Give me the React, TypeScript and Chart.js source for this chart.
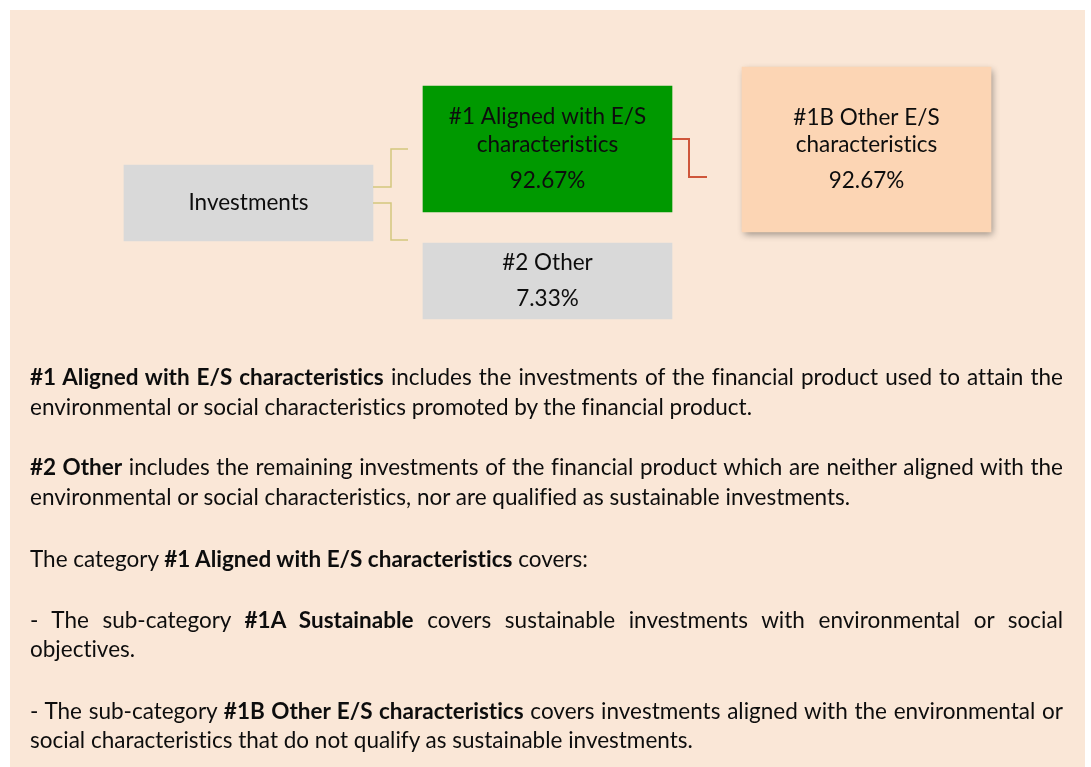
import React, { useEffect, useRef } from "react";
import { Chart, registerables } from "chart.js";

Chart.register(...registerables);

// ---- data ----
const boxNames = ["Investments", "#1 Aligned with E/S characteristics", "#2 Other", "#1B Other E/S characteristics"];
const boxLines = [["Investments"], ["#1 Aligned with E/S", "characteristics"], ["#2 Other"], ["#1B Other E/S", "characteristics"]];
const boxShares: (number | null)[] = [null, 92.67, 7.33, 92.67];

// ---- layout (page pixel units) ----
const boxSpanX = [[124, 373], [423, 672], [423, 672], [742, 991]];
const boxCenterY = [203, 149, 281, 149.5];
const boxHeight = [76, 126, 76, 165];
const boxColor = ["#D9D9D9", "#009900", "#D9D9D9", "#FCD5B4"];
const connectors = [
  { color: "#D3C77E", width: 1.5, pts: [[373, 187], [391, 187], [391, 149], [408, 149]] },
  { color: "#D3C77E", width: 1.5, pts: [[373, 203], [391, 203], [391, 240], [408, 240]] },
  { color: "#CF563A", width: 2, pts: [[672, 139], [689, 139], [689, 177], [707, 177]] },
];

const FONT = "Lato";
const BOX_FONT_SIZE = 22.5;
const TEXT_FONT_SIZE = 22.5;

type Part = [string, boolean];
const textLines: { base: number; parts: Part[]; justify: boolean }[] = [
  { base: 385, justify: true, parts: [["#1 Aligned with E/S characteristics", true], [" includes the investments of the financial product used to attain the", false]] },
  { base: 415, justify: false, parts: [["environmental or social characteristics promoted by the financial product.", false]] },
  { base: 475, justify: true, parts: [["#2 Other", true], [" includes the remaining investments of the financial product which are neither aligned with the", false]] },
  { base: 505, justify: false, parts: [["environmental or social characteristics, nor are qualified as sustainable investments.", false]] },
  { base: 567, justify: false, parts: [["The category ", false], ["#1 Aligned with E/S characteristics", true], [" covers:", false]] },
  { base: 628, justify: true, parts: [["- The sub-category ", false], ["#1A Sustainable", true], [" covers sustainable investments with environmental or social", false]] },
  { base: 657, justify: false, parts: [["objectives.", false]] },
  { base: 719, justify: true, parts: [["- The sub-category ", false], ["#1B Other E/S characteristics", true], [" covers investments aligned with the environmental or", false]] },
  { base: 748, justify: false, parts: [["social characteristics that do not qualify as sustainable investments.", false]] },
];

const fmtPct = (v: number) => v.toFixed(2) + "%";

export default function App() {
  const canvasRef = useRef<HTMLCanvasElement | null>(null);

  useEffect(() => {
    const canvas = canvasRef.current;
    if (!canvas) return;

    const boxPlugin = {
      id: "boxDecor",
      beforeDatasetDraw(chart: any, args: any) {
        if (args.index === 3) {
          const ctx = chart.ctx;
          ctx.save();
          ctx.shadowColor = "rgba(0,0,0,0.38)";
          ctx.shadowBlur = 7;
          ctx.shadowOffsetX = 2;
          ctx.shadowOffsetY = 3;
        }
      },
      afterDatasetDraw(chart: any, args: any) {
        if (args.index === 3) chart.ctx.restore();
      },
      afterDatasetsDraw(chart: any) {
        const ctx = chart.ctx;
        const xs = chart.scales.x;
        const ys = chart.scales.y;
        ctx.save();
        connectors.forEach((c) => {
          ctx.beginPath();
          ctx.strokeStyle = c.color;
          ctx.lineWidth = c.width;
          c.pts.forEach(([px, py], i) => {
            const X = xs.getPixelForValue(px);
            const Y = ys.getPixelForValue(py);
            if (i === 0) ctx.moveTo(X, Y);
            else ctx.lineTo(X, Y);
          });
          ctx.stroke();
        });
        ctx.fillStyle = "#0d0d0d";
        ctx.textAlign = "center";
        ctx.textBaseline = "alphabetic";
        ctx.font = `${BOX_FONT_SIZE}px ${FONT}`;
        try { (ctx as any).letterSpacing = "0.01px"; } catch (e) {}
        boxLines.forEach((lines, i) => {
          const cx = xs.getPixelForValue((boxSpanX[i][0] + boxSpanX[i][1]) / 2);
          const rows: { t: string; gap: number }[] = lines.map((t, k) => ({ t, gap: k === 0 ? 0 : 27.7 }));
          if (boxShares[i] !== null) rows.push({ t: fmtPct(boxShares[i] as number), gap: 36 });
          const total = rows.reduce((s, r) => s + r.gap, 0);
          const mid = ys.getPixelForValue(boxCenterY[i]) + 7;
          let y = mid - total / 2;
          rows.forEach((r) => {
            y += r.gap;
            ctx.fillText(r.t, cx, y);
          });
        });
        ctx.restore();
      },
    };

    const chart = new Chart(canvas, {
      type: "bar",
      data: {
        labels: boxNames,
        datasets: boxNames.map((name, i) => ({
          label: name,
          data: [{ x: boxSpanX[i], y: boxCenterY[i] }] as any,
          backgroundColor: boxColor[i],
          borderWidth: 0,
          borderSkipped: false,
          barThickness: boxHeight[i],
          stack: "boxes",
        })),
      },
      options: {
        indexAxis: "y",
        animation: false,
        responsive: false,
        devicePixelRatio: 1,
        events: [],
        layout: { padding: 0 },
        plugins: { legend: { display: false }, tooltip: { enabled: false } },
        scales: {
          x: { type: "linear", min: 0, max: 1091, display: false, stacked: false, offset: false },
          y: { type: "linear", min: 0, max: 767, reverse: true, display: false, offset: false },
        },
      } as any,
      plugins: [boxPlugin],
    });
    return () => chart.destroy();
  }, []);

  return (
    <div style={{ position: "absolute", left: 0, top: 0, width: 1091, height: 767, overflow: "hidden", background: "#ffffff" }}>
      <div style={{ position: "absolute", left: 10, top: 10, width: 1075, height: 757, background: "#FAE7D7" }} />
      <canvas ref={canvasRef} width={1091} height={767} style={{ position: "absolute", left: 0, top: 0, width: 1091, height: 767 }} />
      {textLines.map((ln, i) => (
        <div
          key={i}
          style={{
            position: "absolute",
            left: 30,
            width: 1033,
            top: ln.base - 23,
            height: 30,
            lineHeight: "30px",
            fontFamily: FONT,
            fontSize: TEXT_FONT_SIZE,
            fontVariantLigatures: "none",
            color: "#0d0d0d",
            wordSpacing: ln.justify ? "-4px" : "normal",
            textAlign: ln.justify ? "justify" : "left",
            textAlignLast: ln.justify ? "justify" : "left",
          } as any}
        >
          {ln.parts.map(([t, b], k) => (
            <span key={k} style={{ fontWeight: b ? 700 : 400 }}>{t}</span>
          ))}
        </div>
      ))}
    </div>
  );
}
